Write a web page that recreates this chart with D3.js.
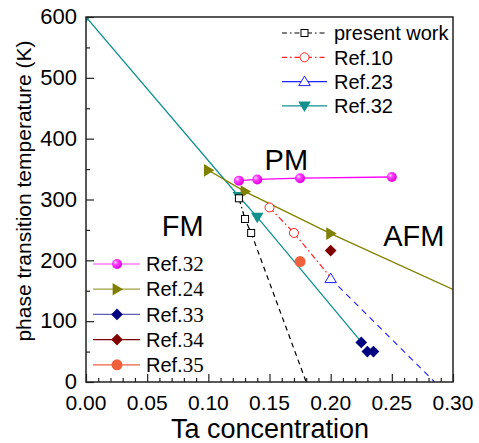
<!DOCTYPE html>
<html>
<head>
<meta charset="utf-8">
<script src="https://cdn.jsdelivr.net/npm/d3@7"></script>
<style>
  body { margin: 0; background: #fff; }
  text { font-family: Arial, "Liberation Sans", sans-serif; fill: #000; }
</style>
</head>
<body>
<svg id="chart" width="479" height="443"></svg>
<script>
// data (Ta concentration, temperature in K)
const presentWork = [[0.125, 302], [0.13, 268], [0.135, 245]];
const presentWorkExtra = [[0.135, 245], [0.18, 0]];
const ref10 = [[0.15, 287], [0.17, 245]];
const ref10Extra = [[0.17, 245], [0.2, 172]];
const ref23 = [[0.2, 170]];
const ref23Extra = [[0.2, 170], [0.285, 0]];
const ref32Line = [[0, 600], [0.125, 305], [0.14, 271], [0.225, 66]];
const ref32Pts = [[0, 600], [0.125, 305], [0.14, 271]];
const ref32Mag = [[0.125, 331], [0.14, 333], [0.175, 335], [0.25, 337]];
const ref24 = [[0.1, 348], [0.13, 313], [0.2, 244], [0.30, 152]];
const ref24Pts = [[0.1, 348], [0.13, 313], [0.2, 244]];
const ref33 = [[0.225, 65], [0.23, 50], [0.235, 50]];
const ref34 = [[0.2, 216]];
const ref35 = [[0.175, 198]];

const xTicks = [0, 0.05, 0.10, 0.15, 0.20, 0.25, 0.30];
const yTicks = [0, 100, 200, 300, 400, 500, 600];
// phase region labels placed in data coordinates
const phaseLabels = [["PM", 0.146, 349], ["FM", 0.062, 240], ["AFM", 0.243, 224]];

const svg = d3.select('#chart');
const x = d3.scaleLinear().domain([0, 0.30]).range([86, 453]);
const y = d3.scaleLinear().domain([0, 600]).range([382, 17]);

// colours
const teal = '#12918c', olive = '#808000', magenta = '#ff00ff';

const defs = svg.append('defs');
defs.append('clipPath').attr('id', 'plot')
  .append('rect').attr('x', x(0)).attr('y', y(600))
  .attr('width', x(0.30) - x(0)).attr('height', y(0) - y(600));
const grad = defs.append('radialGradient').attr('id', 'sphere')
  .attr('cx', '35%').attr('cy', '35%').attr('r', '65%');
grad.append('stop').attr('offset', '0%').attr('stop-color', '#ffe0ff');
grad.append('stop').attr('offset', '35%').attr('stop-color', '#ff40ff');
grad.append('stop').attr('offset', '100%').attr('stop-color', '#e000e0');

const line = d3.line().x(d => x(d[0])).y(d => y(d[1]));

// marker helper
function marker(g, type, cx, cy, opt) {
  const s = opt.size || 5;
  let el;
  if (type === 'square') {
    el = g.append('rect').attr('x', cx - s).attr('y', cy - s).attr('width', 2 * s).attr('height', 2 * s);
  } else if (type === 'circle') {
    el = g.append('circle').attr('cx', cx).attr('cy', cy).attr('r', s);
  } else if (type === 'up') {
    el = g.append('path').attr('d', `M${cx},${cy - s * 1.1}L${cx + s * 1.15},${cy + s * 0.8}L${cx - s * 1.15},${cy + s * 0.8}Z`);
  } else if (type === 'down') {
    el = g.append('path').attr('d', `M${cx},${cy + s * 1.1}L${cx + s * 1.15},${cy - s * 0.8}L${cx - s * 1.15},${cy - s * 0.8}Z`);
  } else if (type === 'right') {
    el = g.append('path').attr('d', `M${cx + s * 1.1},${cy}L${cx - s * 0.8},${cy - s * 1.15}L${cx - s * 0.8},${cy + s * 1.15}Z`);
  } else if (type === 'diamond') {
    el = g.append('path').attr('d', `M${cx},${cy - s * 1.3}L${cx + s * 1.3},${cy}L${cx},${cy + s * 1.3}L${cx - s * 1.3},${cy}Z`);
  }
  el.attr('fill', opt.fill || 'none').attr('stroke', opt.stroke || 'none').attr('stroke-width', opt.sw || 1);
  return el;
}

const plot = svg.append('g').attr('clip-path', 'url(#plot)');

function drawLine(data, color, dash, w) {
  plot.append('path').datum(data).attr('d', line)
    .attr('fill', 'none').attr('stroke', color).attr('stroke-width', w || 1.2)
    .attr('stroke-dasharray', dash);
}

// lines
drawLine(ref32Line, teal, null, 1.3);
drawLine(ref24, olive, null, 1.3);
drawLine(ref32Mag, magenta, null, 1.3);
drawLine(presentWork, '#000', '6,3,1.5,3');
drawLine(presentWorkExtra, '#000', '5,4');
drawLine(ref10, '#ff2020', '6,3,1.5,3');
drawLine(ref10Extra, '#ff2020', '6,3,1.5,3');
drawLine(ref23Extra, '#2020ff', '6,5');

// markers
ref32Pts.forEach(d => marker(plot, 'down', x(d[0]), y(d[1]), { fill: teal, size: 5.5 }));
ref24Pts.forEach(d => marker(plot, 'right', x(d[0]), y(d[1]), { fill: olive, size: 5.5 }));
ref32Mag.forEach(d => marker(plot, 'circle', x(d[0]), y(d[1]), { fill: 'url(#sphere)', size: 5 }));
presentWork.forEach(d => marker(plot, 'square', x(d[0]), y(d[1]), { fill: '#fff', stroke: '#000', size: 3.5 }));
ref10.forEach(d => marker(plot, 'circle', x(d[0]), y(d[1]), { fill: '#fff', stroke: '#ff2020', size: 4.5 }));
ref23.forEach(d => marker(plot, 'up', x(d[0]), y(d[1]), { fill: '#fff', stroke: '#2020ff', size: 5 }));
ref33.forEach(d => marker(plot, 'diamond', x(d[0]), y(d[1]), { fill: '#000080', size: 4.5 }));
ref34.forEach(d => marker(plot, 'diamond', x(d[0]), y(d[1]), { fill: '#800000', size: 4.5 }));
ref35.forEach(d => marker(plot, 'circle', x(d[0]), y(d[1]), { fill: '#f0603c', size: 5.5 }));

// axes: ticks inward, left and bottom only
const xAxis = svg.append('g').attr('transform', `translate(0,${y(0)})`)
  .call(d3.axisBottom(x).tickValues(d3.range(0, 0.3001, 0.01)).tickSize(-4).tickFormat(''));
xAxis.selectAll('.tick line').filter((d, i) => i % 5 === 0).attr('y2', -8);
const yAxis = svg.append('g').attr('transform', `translate(${x(0)},0)`)
  .call(d3.axisLeft(y).tickValues(d3.range(0, 601, 50)).tickSize(-4).tickFormat(''));
yAxis.selectAll('.tick line').filter((d, i) => i % 2 === 0).attr('x2', 8);
svg.selectAll('.domain').remove();
svg.selectAll('.tick line').attr('stroke', '#222').attr('stroke-width', 1.2);

svg.append('rect').attr('x', x(0)).attr('y', y(600))
  .attr('width', x(0.30) - x(0)).attr('height', y(0) - y(600))
  .attr('fill', 'none').attr('stroke', '#222').attr('stroke-width', 1.5);

// tick labels
svg.append('g').selectAll('text').data(xTicks).join('text')
  .attr('x', d => x(d)).attr('y', 410).attr('text-anchor', 'middle')
  .attr('font-size', 21).text(d => d3.format('.2f')(d));
svg.append('g').selectAll('text').data(yTicks).join('text')
  .attr('x', 77).attr('y', d => y(d)).attr('dy', '0.33em').attr('text-anchor', 'end')
  .attr('font-size', 22).text(d => d);

// axis titles
svg.append('text').attr('x', 270).attr('y', 438).attr('text-anchor', 'middle')
  .attr('font-size', 27).text('Ta concentration');
svg.append('text').attr('transform', 'translate(31,191) rotate(-90)')
  .attr('text-anchor', 'middle').attr('font-size', 21).text('phase transition temperature (K)');

// phase labels
phaseLabels.forEach(p => svg.append('text').attr('x', x(p[1])).attr('y', y(p[2]))
  .attr('font-size', 29).text(p[0]));

// top-right legend
const legTop = [
  { name: 'present work', color: '#000', dash: '5,3,1.5,3', m: 'square', fill: '#fff', stroke: '#000', size: 3.5 },
  { name: 'Ref.10', color: '#ff2020', dash: '5,3,1.5,3', m: 'circle', fill: '#fff', stroke: '#ff2020', size: 4.5 },
  { name: 'Ref.23', color: '#2020ff', dash: null, m: 'up', fill: '#fff', stroke: '#2020ff', size: 5 },
  { name: 'Ref.32', color: teal, dash: null, m: 'down', fill: teal, stroke: null, size: 5.5 }
];
legTop.forEach((d, i) => {
  const cy = 33 + i * 24.3;
  svg.append('line').attr('x1', 282).attr('x2', 327).attr('y1', cy).attr('y2', cy)
    .attr('stroke', d.color).attr('stroke-width', 1.2).attr('stroke-dasharray', d.dash);
  marker(svg, d.m, 304.5, cy, { fill: d.fill, stroke: d.stroke, size: d.size });
  svg.append('text').attr('x', 334).attr('y', cy).attr('dy', '0.36em').attr('font-size', 20).text(d.name);
});

// bottom-left legend
const legBottom = [
  { num: '32', color: '#ff80ff', m: 'circle', fill: 'url(#sphere)', size: 5 },
  { num: '24', color: '#a0a040', m: 'right', fill: olive, size: 5.5 },
  { num: '33', color: '#6060b0', m: 'diamond', fill: '#000080', size: 4.5 },
  { num: '34', color: '#800000', m: 'diamond', fill: '#800000', size: 4.5 },
  { num: '35', color: '#f0603c', m: 'circle', fill: '#f0603c', size: 5.5 }
];
legBottom.forEach((d, i) => {
  const cy = 264 + i * 25.2;
  svg.append('line').attr('x1', 93).attr('x2', 140).attr('y1', cy).attr('y2', cy)
    .attr('stroke', d.color).attr('stroke-width', 1.3);
  marker(svg, d.m, 117, cy, { fill: d.fill, size: d.size });
  const t = svg.append('text').attr('x', 146).attr('y', cy).attr('dy', '0.36em').attr('font-size', 20);
  t.append('tspan').text('Ref.');
  t.append('tspan').style('font-family', '"Liberation Serif", "Times New Roman", serif').attr('font-size', 21).text(d.num);
});
</script>
</body>
</html>
